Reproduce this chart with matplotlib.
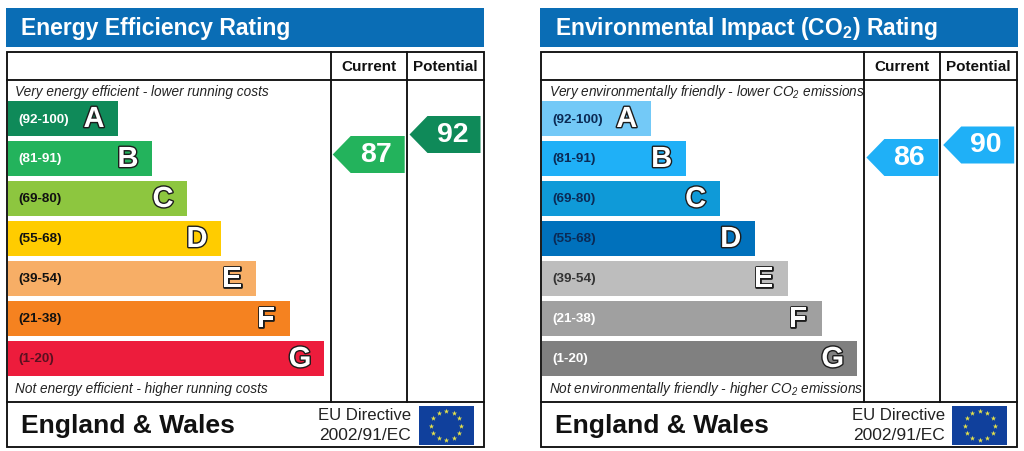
import numpy as np
import matplotlib
matplotlib.use("Agg")
import matplotlib.pyplot as plt
import matplotlib.patheffects as pe
from matplotlib.patches import Polygon, Rectangle

plt.rcParams['font.family'] = ['Liberation Sans', 'DejaVu Sans']
plt.rcParams['mathtext.default'] = 'regular'

ranges = ['(92-100)', '(81-91)', '(69-80)', '(55-68)', '(39-54)', '(21-38)', '(1-20)']
letters = ['A', 'B', 'C', 'D', 'E', 'F', 'G']
# bar lengths (pixels of the chart scale)
energy_lengths = [110, 144, 179, 213, 248, 282, 316]
env_lengths = [109, 144, 178, 213, 246, 280, 315]
energy_colors = ['#0f8a59', '#23b35c', '#8dc63f', '#ffcc00', '#f7ae66', '#f58220', '#ed1c3c']
env_colors = ['#73c9f7', '#1fb0f7', '#0f9ad8', '#0071bc', '#bdbdbd', '#a0a0a0', '#808080']
energy_range_colors = ['white', 'white', '#111111', '#111111', '#111111', '#111111', '#5a1020']
env_range_colors = ['#0b2a55', '#0b2a55', '#0b2a55', '#0b2a55', '#333333', 'white', 'white']
energy_current, energy_potential = 87, 92
env_current, env_potential = 86, 90
energy_title = 'Energy Efficiency Rating'
env_title = 'Environmental Impact (CO$_2$) Rating'
energy_top = 'Very energy efficient - lower running costs'
energy_bottom = 'Not energy efficient - higher running costs'
env_top = 'Very environmentally friendly - lower CO$_2$ emissions'
env_bottom = 'Not environmentally friendly - higher CO$_2$ emissions'

BLUE = '#0a6db5'
fig = plt.figure(figsize=(10.24, 4.52), dpi=100)
ax = fig.add_axes([0, 0, 1, 1])
ax.set_xlim(0, 1024)
ax.set_ylim(451, -1)
ax.axis('off')


def arrow(x0, cy, color, value, w):
    h, tip = 37, 18
    ax.add_patch(Polygon([(x0, cy), (x0 + tip, cy - h / 2), (x0 + w, cy - h / 2),
                          (x0 + w, cy + h / 2), (x0 + tip, cy + h / 2)],
                         closed=True, fc=color, ec='none', zorder=3))
    ax.text(x0 + 43, cy - 0.5, str(value), color='white', fontsize=20.5, fontweight='bold',
            ha='center', va='center', zorder=4)


def panel(x0, title, top, bottom, lengths, colors, rcolors, cur, pot, cur_color, pot_color, cur_y, pot_y):
    x1 = x0 + 476.5
    ax.add_patch(Rectangle((x0 - 0.7, 8), 477.5, 39, fc=BLUE, ec='none'))
    ax.text(x0 + 14, 28, title, color='white', fontsize=16.45, fontweight='bold', va='center', ha='left')
    lw = 1.35
    ax.add_patch(Rectangle((x0, 52), 476.5, 395, ec='#111111', lw=lw, zorder=2.5, fill=False))
    ax.plot([x0, x1], [80, 80], color='#111111', lw=lw, zorder=2.5)
    ax.plot([x0, x1], [402, 402], color='#111111', lw=lw, zorder=2.5)
    vx1, vx2 = x0 + 323.7, x0 + 399.7
    for v in (vx1, vx2):
        ax.plot([v, v], [52, 402], color='#111111', lw=lw, zorder=2.5)
    ax.text((vx1 + vx2) / 2, 66, 'Current', fontsize=11, fontweight='bold', ha='center', va='center', color='#111111')
    ax.text((vx2 + x1) / 2, 66, 'Potential', fontsize=11, fontweight='bold', ha='center', va='center', color='#111111')
    ax.text(x0 + 8.2, 91, top, fontsize=9.8, style='italic', ha='left', va='center', color='#222222')
    ax.text(x0 + 8.2, 388.5, bottom, fontsize=9.8, style='italic', ha='left', va='center', color='#222222')

    y = np.arange(7) * 40 + 118.5
    ax.barh(y, lengths, height=35, left=x0 + 1, color=colors, zorder=1)
    for yi, L, r, letter, rc in zip(y, lengths, ranges, letters, rcolors):
        ax.text(x0 + 11.5, yi, r, fontsize=9.7, fontweight='bold', color=rc, ha='left', va='center', zorder=2)
        ax.text(x0 + L - 23, yi + 0.5, letter, fontsize=21, fontweight='bold', color='white',
                ha='center', va='center', zorder=2,
                path_effects=[pe.withStroke(linewidth=2, foreground='#1c1c1c')])

    arrow(x0 + 325.7, cur_y, cur_color, cur, 72)
    arrow(x0 + 402.5, pot_y, pot_color, pot, 71)

    ax.text(x0 + 14, 425.5, 'England & Wales', fontsize=19.05, fontweight='bold', ha='left', va='center', color='#111111')
    ax.text(x0 + 404, 415, 'EU Directive', fontsize=12.1, ha='right', va='center', color='#222222')
    ax.text(x0 + 404, 434.5, '2002/91/EC', fontsize=12.5, ha='right', va='center', color='#222222')
    fx = x0 + 411.7
    ax.add_patch(Rectangle((fx, 406), 55, 39, fc='#10409c', ec='none', zorder=2))
    ang = np.deg2rad(np.arange(12) * 30)
    ax.scatter(fx + 27.5 + 15 * np.sin(ang), 425.5 - 14.5 * np.cos(ang), marker='*', s=16,
               color='#e6e24a', linewidths=0, zorder=3)


panel(7, energy_title, energy_top, energy_bottom, energy_lengths, energy_colors, energy_range_colors,
      energy_current, energy_potential, energy_colors[1], energy_colors[0], 154.5, 134.5)
panel(540.7, env_title, env_top, env_bottom, env_lengths, env_colors, env_range_colors,
      env_current, env_potential, env_colors[1], env_colors[1], 157.5, 145)

fig.savefig('out.png', dpi=100)
